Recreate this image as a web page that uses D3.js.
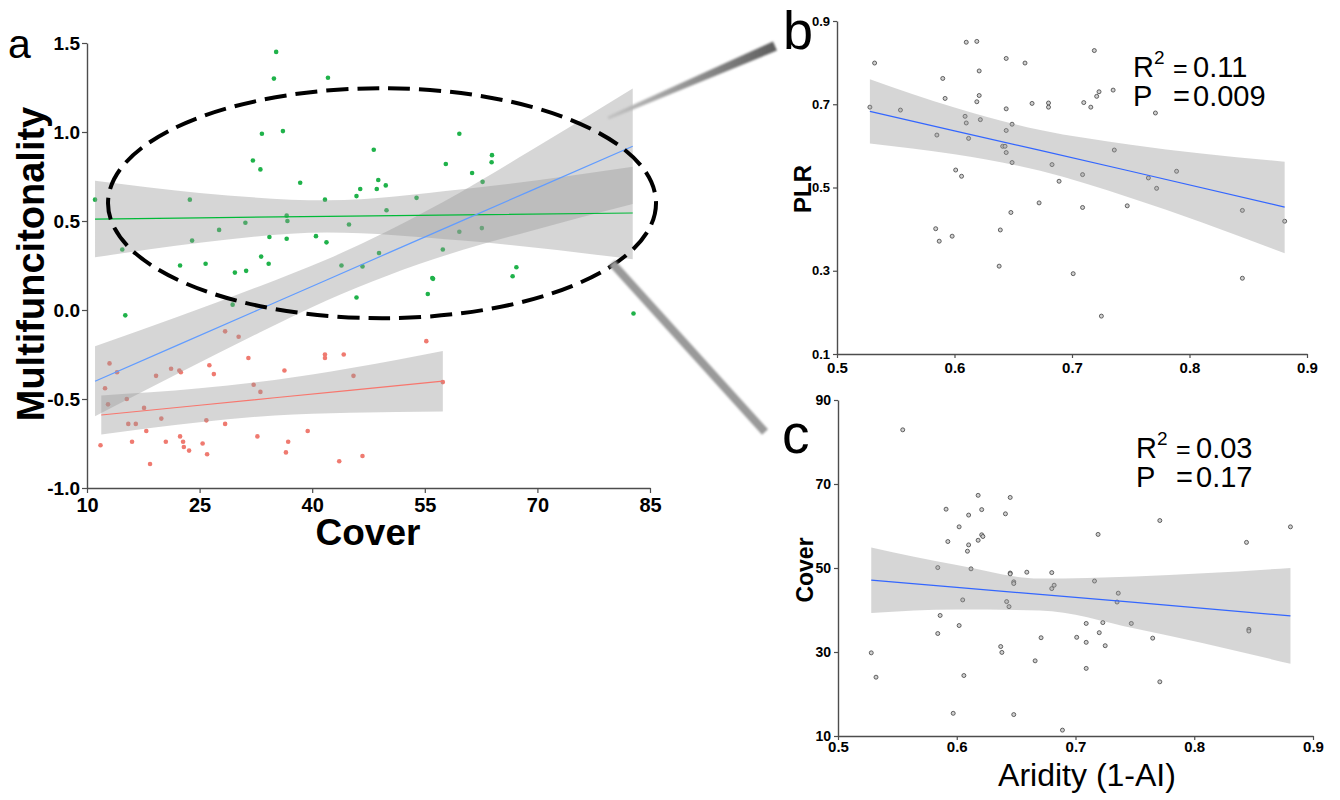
<!DOCTYPE html>
<html>
<head>
<meta charset="utf-8">
<script src="https://cdn.jsdelivr.net/npm/d3@7"></script>
<style>
  body { margin: 0; background: #fff; }
  svg { display: block; font-family: "Liberation Sans", Arial, sans-serif; }
</style>
</head>
<body>
<div id="chart"></div>
<script>
// ---- panel a : multifunctionality vs cover ----
var greenCover = [11.07,14.7,15.1,22.4,23.7,24.0,25.8,27.6,29.4,29.7,31.1,31.2,32.1,33.1,33.2,33.3,34.2,34.3,34.9,35.2,36.1,36.6,36.7,36.6,38.4,40.5,41.7,41.9,42.1,43.9,44.9,45.9,45.9,46.4,46.7,48.2,48.6,48.8,48.9,49.8,49.9,53.9,55.4,56.0,56.1,57.4,57.8,59.6,59.6,61.3,62.6,62.7,63.9,63.95,66.7,67.2,82.8];
var greenMF    = [0.62,0.34,-0.03,0.25,0.62,0.39,0.26,0.45,0.03,0.21,0.49,0.22,0.84,0.79,0.30,0.99,0.26,0.41,1.30,1.45,1.005,0.53,0.50,0.40,0.715,0.415,0.62,0.38,1.305,0.25,0.48,0.64,0.07,0.68,0.245,0.90,0.68,0.73,0.32,0.70,0.56,0.63,0.09,0.18,0.175,0.34,0.82,0.99,0.44,0.77,0.46,0.72,0.83,0.87,0.19,0.24,-0.02];

var redCover = [11.8,12.4,12.8,13.0,14.0,15.3,15.5,16.0,16.5,17.6,17.9,18.4,19.2,19.9,20.5,21.2,22.3,22.4,22.5,22.8,22.9,23.6,25.4,25.9,26.0,26.3,26.9,28.4,28.4,30.2,31.5,32.2,32.7,33.1,36.3,36.5,36.8,39.4,41.7,41.7,43.6,44.2,45.5,46.7,55.2,57.4];
var redMF    = [-0.76,-0.44,-0.53,-0.30,-0.35,-0.50,-0.64,-0.74,-0.64,-0.55,-0.68,-0.865,-0.37,-0.61,-0.74,-0.33,-0.34,-0.71,-0.35,-0.74,-0.77,-0.79,-0.75,-0.62,-0.81,-0.31,-0.36,-0.12,-0.64,-0.15,-0.27,-0.42,-0.71,-0.46,-0.34,-0.80,-0.74,-0.68,-0.25,-0.27,-0.85,-0.25,-0.37,-0.82,-0.175,-0.405];

// fitted lines with confidence bands
var greenFitX  = [11.07, 25, 42, 60, 82.7];
var greenFit   = [0.511, 0.518, 0.526, 0.534, 0.545];
var greenLo    = [0.296, 0.378, 0.436, 0.390, 0.285];
var greenHi    = [0.726, 0.658, 0.616, 0.678, 0.805];

var redFitX    = [11.9, 25, 35, 45, 57.4];
var redFit     = [-0.590, -0.535, -0.493, -0.452, -0.400];
var redLo      = [-0.700, -0.630, -0.593, -0.577, -0.570];
var redHi      = [-0.480, -0.440, -0.393, -0.327, -0.230];

var blueFitX   = [11.07, 22, 33, 42, 50, 60, 69, 82.7];
var blueFit    = [-0.400, -0.199, 0.004, 0.170, 0.318, 0.502, 0.668, 0.920];
var blueLo     = [-0.597, -0.359, -0.126, 0.055, 0.193, 0.337, 0.443, 0.595];
var blueHi     = [-0.203, -0.039, 0.134, 0.285, 0.443, 0.667, 0.893, 1.245];

var coverTicks = [10, 25, 40, 55, 70, 85];
var mfTicks    = [-1.0, -0.5, 0.0, 0.5, 1.0, 1.5];

// ---- panel b : PLR vs aridity ----
var aridB = [0.528,0.532,0.554,0.584,0.585,0.587,0.590,0.592,0.598,0.601,0.606,0.609,0.610,0.610,0.612,0.619,0.619,0.621,0.621,0.622,0.638,0.639,0.641,0.643,0.644,0.644,0.644,0.644,0.648,0.649,0.649,0.660,0.666,0.672,0.680,0.680,0.683,0.689,0.701,0.709,0.709,0.710,0.716,0.719,0.721,0.723,0.725,0.735,0.736,0.747,0.765,0.771,0.772,0.789,0.845,0.845,0.881];
var plr   = [0.693,0.799,0.686,0.401,0.626,0.371,0.762,0.714,0.383,0.542,0.527,0.671,0.655,0.849,0.618,0.706,0.851,0.780,0.721,0.663,0.311,0.398,0.599,0.599,0.810,0.689,0.637,0.584,0.440,0.652,0.560,0.799,0.702,0.463,0.703,0.693,0.555,0.515,0.293,0.531,0.452,0.704,0.693,0.829,0.719,0.730,0.191,0.734,0.590,0.456,0.523,0.679,0.498,0.539,0.445,0.282,0.419];

var plrFitX = [0.528, 0.6, 0.673, 0.75, 0.881];
var plrFit  = [0.683, 0.636, 0.589, 0.539, 0.453];
var plrLo   = [0.606, 0.580, 0.540, 0.475, 0.342];
var plrHi   = [0.760, 0.692, 0.638, 0.603, 0.562];
var plrTicks = [0.1, 0.3, 0.5, 0.7, 0.9];

// ---- panel c : cover vs aridity ----
var aridC  = [0.528,0.532,0.5545,0.584,0.584,0.586,0.591,0.5925,0.597,0.602,0.602,0.605,0.606,0.609,0.610,0.610,0.612,0.618,0.618,0.621,0.621,0.622,0.637,0.638,0.641,0.642,0.644,0.645,0.645,0.645,0.648,0.648,0.648,0.659,0.666,0.671,0.680,0.680,0.682,0.689,0.701,0.709,0.709,0.709,0.716,0.719,0.720,0.723,0.725,0.735,0.736,0.747,0.765,0.771,0.771,0.844,0.846,0.846,0.881];
var coverC = [29.8,24.0,82.9,50.1,34.4,38.7,64.0,56.3,15.4,59.8,36.3,42.4,24.4,54.0,62.6,55.5,49.8,67.3,56.6,63.9,57.9,57.5,31.3,29.9,62.9,42.0,40.8,66.8,48.8,48.6,46.7,46.3,15.1,49.0,27.9,33.4,48.9,45.1,45.9,11.4,33.5,36.8,32.3,26.1,46.9,58.0,34.6,37.0,31.5,41.9,44.0,36.8,33.3,61.3,22.9,56.1,35.4,35.0,59.8];

var covFitX = [0.528, 0.6, 0.67, 0.75, 0.881];
var covFit  = [47.1, 45.4, 43.7, 41.8, 38.6];
var covLo   = [39.3, 40.1, 39.9, 35.6, 27.2];
var covHi   = [54.9, 50.7, 47.5, 48.0, 50.0];
var coverCTicks = [10, 30, 50, 70, 90];
var aridTicks = [0.5, 0.6, 0.7, 0.8, 0.9];

var bandFill = "rgba(153,153,153,0.4)";

var svg = d3.select("#chart").append("svg")
    .attr("width", 1340)
    .attr("height", 800);

var defs = svg.append("defs");
defs.append("filter").attr("id", "soft")
    .append("feGaussianBlur").attr("stdDeviation", 1.2);
var grad = defs.append("linearGradient").attr("id", "arrowGrad")
    .attr("x1", "0%").attr("x2", "100%");
grad.append("stop").attr("offset", "0%").attr("stop-color", "#c4c4c4");
grad.append("stop").attr("offset", "100%").attr("stop-color", "#5e5e5e");

function zip(xs, ys) {
  return xs.map(function(d, i) { return [d, ys[i]]; });
}

function styleAxis(g, size) {
  g.select(".domain").attr("stroke", "#4d4d4d").attr("stroke-width", 1.4);
  g.selectAll(".tick line").attr("stroke", "#4d4d4d").attr("stroke-width", 1.2);
  g.selectAll(".tick text")
    .attr("fill", "#000")
    .style("font-size", size + "px")
    .style("font-weight", "bold");
}

function drawBand(g, x, y, xs, lo, hi) {
  var area = d3.area()
    .x(function(d) { return x(d[0]); })
    .y0(function(d) { return y(d[1]); })
    .y1(function(d) { return y(d[2]); })
    .curve(d3.curveMonotoneX);
  g.append("path")
    .attr("d", area(xs.map(function(d, i) { return [d, lo[i], hi[i]]; })))
    .attr("fill", bandFill);
}

function drawFit(g, x, y, xs, fit, color) {
  var line = d3.line()
    .x(function(d) { return x(d[0]); })
    .y(function(d) { return y(d[1]); });
  g.append("path")
    .attr("d", line(zip(xs, fit)))
    .attr("fill", "none")
    .attr("stroke", color)
    .attr("stroke-width", 1.2);
}

// ================= panel a =================
var xA = d3.scaleLinear().domain([10, 85]).range([87, 650]);
var yA = d3.scaleLinear().domain([-1, 1.5]).range([488, 43]);
var gA = svg.append("g");

gA.selectAll(".ptG").data(zip(greenCover, greenMF)).enter().append("circle")
  .attr("cx", function(d) { return xA(d[0]); })
  .attr("cy", function(d) { return yA(d[1]); })
  .attr("r", 2.3)
  .attr("fill", "#1fb24a");
gA.selectAll(".ptR").data(zip(redCover, redMF)).enter().append("circle")
  .attr("cx", function(d) { return xA(d[0]); })
  .attr("cy", function(d) { return yA(d[1]); })
  .attr("r", 2.3)
  .attr("fill", "#ef7a70");

drawBand(gA, xA, yA, greenFitX, greenLo, greenHi);
drawBand(gA, xA, yA, redFitX, redLo, redHi);
drawBand(gA, xA, yA, blueFitX, blueLo, blueHi);
drawFit(gA, xA, yA, greenFitX, greenFit, "#00BA38");
drawFit(gA, xA, yA, redFitX, redFit, "#F8766D");
drawFit(gA, xA, yA, blueFitX, blueFit, "#619CFF");

var axAx = gA.append("g").attr("transform", "translate(0,488)")
  .call(d3.axisBottom(xA).tickValues(coverTicks).tickSize(5).tickSizeOuter(0).tickPadding(5)
    .tickFormat(function(d) { return d; }));
styleAxis(axAx, 20);
var axAy = gA.append("g").attr("transform", "translate(87,0)")
  .call(d3.axisLeft(yA).tickValues(mfTicks).tickSize(5).tickSizeOuter(0).tickPadding(2)
    .tickFormat(function(d) { return d.toFixed(1); }));
styleAxis(axAy, 19);

gA.append("text")
  .attr("transform", "translate(44,264) rotate(-90)")
  .attr("text-anchor", "middle")
  .style("font-size", "38px").style("font-weight", "bold")
  .text("Multifuncitonality");
gA.append("text")
  .attr("x", 368).attr("y", 545)
  .attr("text-anchor", "middle")
  .style("font-size", "37px").style("font-weight", "bold")
  .text("Cover");
gA.append("text")
  .attr("x", 8).attr("y", 58)
  .style("font-size", "41px")
  .text("a");

// dashed ellipse around the green group
var ell = {cx: 49.3, cy: 0.60, rx: 36.5, ry: 0.646};
gA.append("ellipse")
  .attr("cx", xA(ell.cx)).attr("cy", yA(ell.cy))
  .attr("rx", xA(ell.cx + ell.rx) - xA(ell.cx))
  .attr("ry", yA(ell.cy - ell.ry) - yA(ell.cy))
  .attr("fill", "none")
  .attr("stroke", "#000")
  .attr("stroke-width", 4)
  .attr("stroke-dasharray", "22 9");

// connector wedges to panels b and c
svg.append("polygon")
  .attr("points", "608.6,119.4 607.4,116.6 773,41.4 777,50.6")
  .attr("fill", "url(#arrowGrad)")
  .attr("filter", "url(#soft)");
svg.append("polygon")
  .attr("points", "615,260.3 609,265.7 762,434.7 768,429.3")
  .attr("fill", "#9a9a9a")
  .attr("filter", "url(#soft)");

// ================= panel b =================
var xB = d3.scaleLinear().domain([0.5, 0.9]).range([837, 1307]);
var yB = d3.scaleLinear().domain([0.1, 0.9]).range([354, 21]);
var gB = svg.append("g");

gB.selectAll("circle").data(zip(aridB, plr)).enter().append("circle")
  .attr("cx", function(d) { return xB(d[0]); })
  .attr("cy", function(d) { return yB(d[1]); })
  .attr("r", 2)
  .attr("fill", "#d0d0d0")
  .attr("stroke", "#404040")
  .attr("stroke-width", 0.8);
drawBand(gB, xB, yB, plrFitX, plrLo, plrHi);
drawFit(gB, xB, yB, plrFitX, plrFit, "#3366FF");

var axBx = gB.append("g").attr("transform", "translate(0,354)")
  .call(d3.axisBottom(xB).tickValues(aridTicks).tickSize(4).tickSizeOuter(0).tickPadding(4)
    .tickFormat(function(d) { return d.toFixed(1); }));
styleAxis(axBx, 15);
var axBy = gB.append("g").attr("transform", "translate(837,0)")
  .call(d3.axisLeft(yB).tickValues(plrTicks).tickSize(4).tickSizeOuter(0).tickPadding(3)
    .tickFormat(function(d) { return d.toFixed(1); }));
styleAxis(axBy, 13);

gB.append("text")
  .attr("transform", "translate(811,189) rotate(-90)")
  .attr("text-anchor", "middle")
  .style("font-size", "24px").style("font-weight", "bold")
  .text("PLR");
gB.append("text")
  .attr("x", 783).attr("y", 49)
  .style("font-size", "54px")
  .text("b");

// ================= panel c =================
var xC = d3.scaleLinear().domain([0.5, 0.9]).range([838, 1313]);
var yC = d3.scaleLinear().domain([10, 90]).range([736, 400]);
var gC = svg.append("g");

gC.selectAll("circle").data(zip(aridC, coverC)).enter().append("circle")
  .attr("cx", function(d) { return xC(d[0]); })
  .attr("cy", function(d) { return yC(d[1]); })
  .attr("r", 2)
  .attr("fill", "#d0d0d0")
  .attr("stroke", "#404040")
  .attr("stroke-width", 0.8);
drawBand(gC, xC, yC, covFitX, covLo, covHi);
drawFit(gC, xC, yC, covFitX, covFit, "#3366FF");

var axCx = gC.append("g").attr("transform", "translate(0,736)")
  .call(d3.axisBottom(xC).tickValues(aridTicks).tickSize(4).tickSizeOuter(0).tickPadding(1)
    .tickFormat(function(d) { return d.toFixed(1); }));
styleAxis(axCx, 15);
var axCy = gC.append("g").attr("transform", "translate(838,0)")
  .call(d3.axisLeft(yC).tickValues(coverCTicks).tickSize(4).tickSizeOuter(0).tickPadding(3)
    .tickFormat(function(d) { return d; }));
styleAxis(axCy, 14);

gC.append("text")
  .attr("transform", "translate(813,570) rotate(-90)")
  .attr("text-anchor", "middle")
  .style("font-size", "23px").style("font-weight", "bold")
  .text("Cover");
gC.append("text")
  .attr("x", 1087).attr("y", 786)
  .attr("text-anchor", "middle")
  .style("font-size", "32px")
  .text("Aridity (1-AI)");
gC.append("text")
  .attr("x", 782).attr("y", 453)
  .style("font-size", "55px")
  .text("c");

// ---- statistics text ----
function stats(x, y, r2, p) {
  var t = svg.append("g").style("font-size", "29px");
  var l1 = t.append("text").attr("x", x).attr("y", y);
  l1.append("tspan").text("R");
  l1.append("tspan").attr("dy", -13).style("font-size", "19px").text("2");
  t.append("text").attr("x", x + 40).attr("y", y).style("font-size", "25px").style("font-weight", "300").text("=");
  t.append("text").attr("x", x + 60).attr("y", y).text(r2);
  t.append("text").attr("x", x).attr("y", y + 29).text("P");
  t.append("text").attr("x", x + 40).attr("y", y + 29).text("=");
  t.append("text").attr("x", x + 60).attr("y", y + 29).text(p);
}
stats(1133, 77, "0.11", "0.009");
stats(1136, 458, "0.03", "0.17");
</script>
</body>
</html>
